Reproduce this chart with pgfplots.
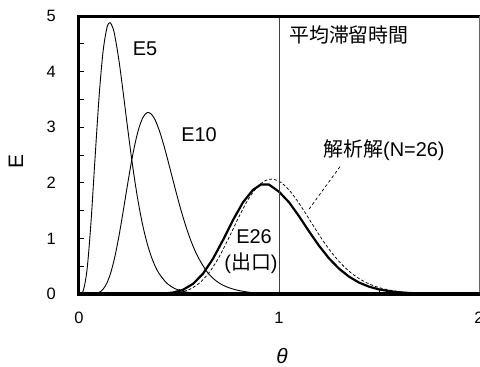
\documentclass[border=0pt]{standalone}
\usepackage{fontspec}
\setmainfont{Liberation Sans}
\newfontfamily\cjk{Noto Sans CJK JP}
\usepackage{pgfplots}
\pgfplotsset{compat=1.18}

\begin{document}
\begin{tikzpicture}
\begin{axis}[
  at={(0,0)}, anchor=south west,
  scale only axis, width=400bp, height=278bp,
  xmin=0, xmax=2, ymin=0, ymax=5,
  clip=false,
  axis line style={draw=none},
  tick pos=left, tick align=inside,
  xtick={0,1,2}, minor xtick={0.5,1.5},
  ytick={0,1,2,3,4,5}, minor ytick={0.5,1.5,2.5,3.5,4.5},
  major tick length=5bp, minor tick length=5bp,
  tick style={black, line width=0.9bp},
  /pgf/number format/assume math mode=true,
  tick label style={font=\fontsize{16.5}{18}\selectfont, inner sep=0pt},
  xticklabel style={anchor=north, yshift=-18bp},
  yticklabel style={anchor=east, xshift=-23bp},
  xlabel={\itshape θ}, ylabel={E},
  label style={font=\fontsize{21}{24}\selectfont},
  xlabel style={at={(rel axis cs:0.5075,-0.223)}, anchor=center},
  ylabel style={at={(rel axis cs:-0.1575,0.475)}, anchor=center},
]

% E5: fifth tank
\addplot[black, line width=0.9bp, smooth] coordinates {
  (0,0) (0.02,0.045) (0.04,0.430) (0.06,1.294) (0.08,2.432) (0.10,3.530)
  (0.12,4.352) (0.14,4.794) (0.155,4.880) (0.17,4.780) (0.18,4.629) (0.20,4.195)
  (0.22,3.652) (0.24,3.075) (0.26,2.517) (0.28,2.013) (0.30,1.577)
  (0.32,1.214) (0.34,0.920) (0.36,0.687) (0.38,0.507) (0.40,0.370)
  (0.44,0.191) (0.48,0.096) (0.52,0.047) (0.56,0.022) (0.60,0.010)
  (0.70,0.002) (0.80,0)
};

% E10: tenth tank
\addplot[black, line width=0.9bp, smooth] coordinates {
  (0,0) (0.06,0.001) (0.08,0.006) (0.10,0.028) (0.12,0.084) (0.14,0.201)
  (0.16,0.398) (0.18,0.682) (0.20,1.047) (0.22,1.468) (0.24,1.910)
  (0.26,2.333) (0.28,2.702) (0.30,2.989) (0.32,3.177) (0.34,3.261)
  (0.36,3.241) (0.38,3.136) (0.40,2.956) (0.42,2.727) (0.44,2.464)
  (0.46,2.186) (0.48,1.908) (0.50,1.636) (0.52,1.385) (0.54,1.156)
  (0.56,0.954) (0.58,0.780) (0.60,0.632) (0.64,0.400) (0.68,0.252)
  (0.72,0.158) (0.76,0.100) (0.80,0.062) (0.85,0.032) (0.90,0.015)
  (1.00,0.003) (1.10,0)
};

% analytical solution, N = 26
\addplot[black, line width=0.75bp, dash pattern=on 3bp off 2bp, smooth] coordinates {
  (0.35,0) (0.40,0.001) (0.45,0.007) (0.50,0.027) (0.55,0.079) (0.60,0.190)
  (0.65,0.382) (0.70,0.663) (0.75,1.015) (0.80,1.391) (0.85,1.725)
  (0.90,1.959) (0.95,2.064) (1.00,2.029) (1.05,1.873) (1.10,1.632)
  (1.15,1.353) (1.20,1.067) (1.25,0.806) (1.30,0.587) (1.35,0.410)
  (1.40,0.278) (1.45,0.182) (1.50,0.116) (1.55,0.072) (1.60,0.043)
  (1.65,0.025) (1.70,0.015) (1.80,0.005) (1.90,0.001) (2.00,0)
};

% E26: outlet
\addplot[black, line width=2.2bp] coordinates {
  (0,0) (0.37,0.001) (0.42,0.007) (0.47,0.026) (0.52,0.076) (0.57,0.182)
  (0.62,0.365) (0.67,0.634) (0.72,0.970) (0.77,1.330) (0.82,1.649)
  (0.87,1.873) (0.91,1.970) (0.95,1.968) (1.00,1.840) (1.05,1.650)
  (1.10,1.400) (1.15,1.127) (1.20,0.868) (1.25,0.641) (1.30,0.456)
  (1.35,0.312) (1.40,0.206) (1.45,0.132) (1.50,0.083) (1.55,0.051)
  (1.60,0.030) (1.67,0.014) (1.77,0.004) (1.87,0.001) (2.00,0)
};

% mean residence time
\addplot[black!75, line width=1bp] coordinates {(1,0) (1,5)};

% frame
\draw[black, line width=3bp, line cap=rect] (rel axis cs:0,0) -- (rel axis cs:0,1) -- (rel axis cs:1,1);
\draw[black!60, line width=0.9bp] (rel axis cs:1,0) -- (rel axis cs:1,1);
\draw[black, line width=3bp, line cap=rect] (rel axis cs:0,0) -- (rel axis cs:1,0);

% annotations
\draw[black, line width=0.7bp, dash pattern=on 3bp off 2.5bp]
  (axis cs:1.305,2.29) -- (axis cs:1.147,1.51);
\begin{scope}[every node/.style={font=\fontsize{20}{24}\selectfont, inner sep=0pt}]
\node at (axis cs:0.33,4.41) {E5};
\node at (axis cs:0.60,2.86) {E10};
\node[anchor=west] at (axis cs:1.05,4.66) {\cjk 平均滞留時間};
\node at (axis cs:1.525,2.59) {{\cjk 解析解}(N=26)};
\node at (axis cs:0.875,1.025) {E26};
\node at (axis cs:0.86,0.56) {({\cjk 出口})};
\end{scope}
\end{axis}
\pgfresetboundingbox
\path[use as bounding box] (-79bp,-73bp) rectangle (401bp,294bp);
\end{tikzpicture}
\end{document}
